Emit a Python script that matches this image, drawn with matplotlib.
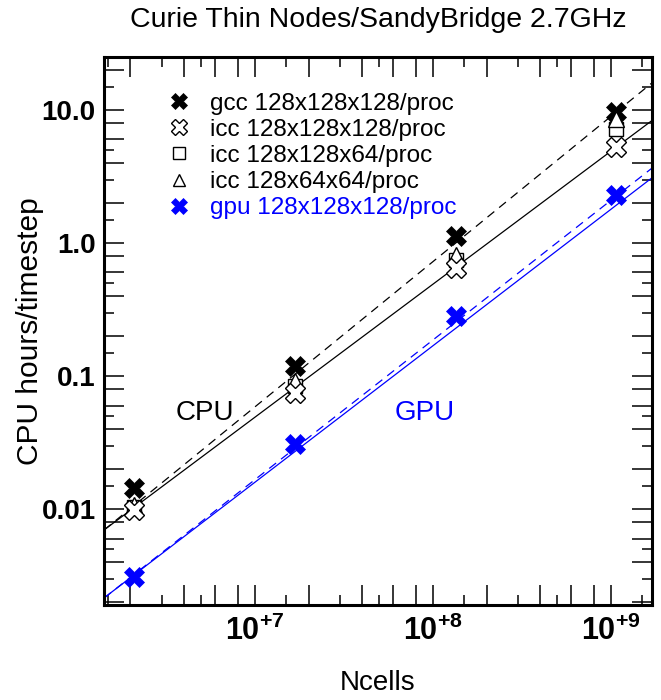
import numpy as np
import matplotlib
matplotlib.use("Agg")
import matplotlib.pyplot as plt
from matplotlib.ticker import FixedLocator, NullFormatter, FixedFormatter

plt.rcParams['font.family'] = ['Liberation Sans', 'DejaVu Sans']
plt.rcParams['mathtext.fontset'] = 'custom'
plt.rcParams['mathtext.rm'] = 'Liberation Sans:bold'
plt.rcParams['mathtext.bf'] = 'Liberation Sans:bold'

# total number of cells (128^3 per proc x nprocs)
ncells = [2.097e6, 1.678e7, 1.342e8, 1.074e9]

# CPU hours per timestep
gcc_128_128_128 = [0.0144, 0.119, 1.12, 9.6]
icc_128_128_128 = [0.0099, 0.075, 0.65, 5.3]
icc_128_128_64 = [0.0103, 0.084, 0.74, 7.2]
icc_128_64_64 = [0.0108, 0.091, 0.81, 8.6]
gpu_128_128_128 = [0.0031, 0.031, 0.283, 2.3]

# power law fits: value at 1e7 cells and slope
fit_names = ['cpu', 'cpu_gcc', 'gpu', 'gpu_dash']
fit_norm = [0.049, 0.0586, 0.0159, 0.01663]
fit_slope = [1.0, 1.092, 1.026, 1.05]

xlim = (1.42e6, 1.70e9)
ylim = (0.0019, 25.0)


def log_ticks(lo, hi, mults):
    out = []
    for e in range(-4, 11):
        for m in mults:
            v = m * 10.0 ** e
            if lo <= v <= hi:
                out.append(v)
    return out


def main():
    fig = plt.figure(figsize=(6.61, 7.00), dpi=100)
    ax = fig.add_axes([104 / 661, 1 - 605 / 700, 548 / 661, 548 / 700])
    ax.set_xscale('log')
    ax.set_yscale('log')
    ax.set_xlim(*xlim)
    ax.set_ylim(*ylim)

    # fit lines
    xx = np.logspace(np.log10(xlim[0]), np.log10(xlim[1]), 50)
    styles = [('black', '-'), ('black', (0, (7, 5))), ('blue', '-'), ('blue', (0, (7, 5)))]
    for norm, slope, (c, ls) in zip(fit_norm, fit_slope, styles):
        ax.plot(xx, norm * (xx / 1e7) ** slope, color=c, ls=ls, lw=0.9)

    ms = 14
    ax.plot(ncells, gcc_128_128_128, 'X', color='black', ms=ms, mec='black', mew=0.5,
            label='gcc 128x128x128/proc')
    ax.plot(ncells, icc_128_128_64, 's', mfc='white', mec='black', ms=10, mew=1.0,
            label='icc 128x128x64/proc', zorder=3)
    ax.plot(ncells, icc_128_64_64, '^', mfc='white', mec='black', ms=11, mew=1.0,
            label='icc 128x64x64/proc', zorder=3)
    ax.plot(ncells, icc_128_128_128, 'X', mfc='white', mec='black', ms=ms, mew=1.0,
            label='icc 128x128x128/proc', zorder=4)
    ax.plot(ncells, gpu_128_128_128, 'X', color='blue', ms=ms, mec='blue', mew=0.5,
            label='gpu 128x128x128/proc')

    handles, labels = ax.get_legend_handles_labels()
    order = [0, 3, 1, 2, 4]
    leg = ax.legend([handles[i] for i in order], [labels[i] for i in order],
                    loc='upper left', bbox_to_anchor=(0.115, 0.935), frameon=False,
                    fontsize=17.5, handlelength=1.0, handletextpad=0.75,
                    labelspacing=0.17, borderpad=0, borderaxespad=0, markerscale=0.85)
    leg.get_texts()[-1].set_color('blue')

    ax.text(0.184, 0.35, 'CPU', transform=ax.transAxes, fontsize=20,
            ha='center', va='center', color='black')
    ax.text(0.586, 0.35, 'GPU', transform=ax.transAxes, fontsize=20,
            ha='center', va='center', color='blue')

    # ticks: long at 1,2,4,6,8 ; short at 1.5,3,5
    xmaj = log_ticks(*xlim, [1, 2, 4, 6, 8])
    xmin = log_ticks(*xlim, [1.5, 3, 5])
    ymaj = log_ticks(*ylim, [1, 2, 4, 6, 8])
    ymin = log_ticks(*ylim, [1.5, 3, 5])

    def xlab(v):
        e = int(round(np.log10(v)))
        return r'$10^{+%d}$' % e if abs(v - 10.0 ** e) < 1e-6 * v else ''

    def ylab(v):
        names = {0.01: '0.01', 0.1: '0.1', 1.0: '1.0', 10.0: '10.0'}
        for k, s in names.items():
            if abs(v - k) < 1e-9:
                return s
        return ''

    ax.xaxis.set_major_locator(FixedLocator(xmaj))
    ax.xaxis.set_major_formatter(FixedFormatter([xlab(v) for v in xmaj]))
    ax.xaxis.set_minor_locator(FixedLocator(xmin))
    ax.xaxis.set_minor_formatter(NullFormatter())
    ax.yaxis.set_major_locator(FixedLocator(ymaj))
    ax.yaxis.set_major_formatter(FixedFormatter([ylab(v) for v in ymaj]))
    ax.yaxis.set_minor_locator(FixedLocator(ymin))
    ax.yaxis.set_minor_formatter(NullFormatter())

    ax.tick_params(which='both', direction='in', top=True, right=True, width=1.1)
    ax.tick_params(which='major', length=14.5)
    ax.tick_params(which='minor', length=7)
    ax.tick_params(axis='y', which='major', labelsize=20, pad=6)
    ax.tick_params(axis='x', which='major', labelsize=22, pad=8)
    for lab in ax.get_yticklabels():
        lab.set_fontweight('bold')
    for sp in ax.spines.values():
        sp.set_linewidth(2.2)

    fig.text(378 / 661, 1 - 20 / 700, 'Curie Thin Nodes/SandyBridge 2.7GHz',
             ha='center', va='center', fontsize=20.5)
    fig.text(378 / 661, 1 - 683 / 700, 'Ncells', ha='center', va='center', fontsize=20)
    fig.text(30 / 661, 1 - 331 / 700, 'CPU hours/timestep', ha='center', va='center',
             rotation=90, fontsize=21.5)

    fig.savefig('out.png', dpi=100)


if __name__ == "__main__":
    main()
